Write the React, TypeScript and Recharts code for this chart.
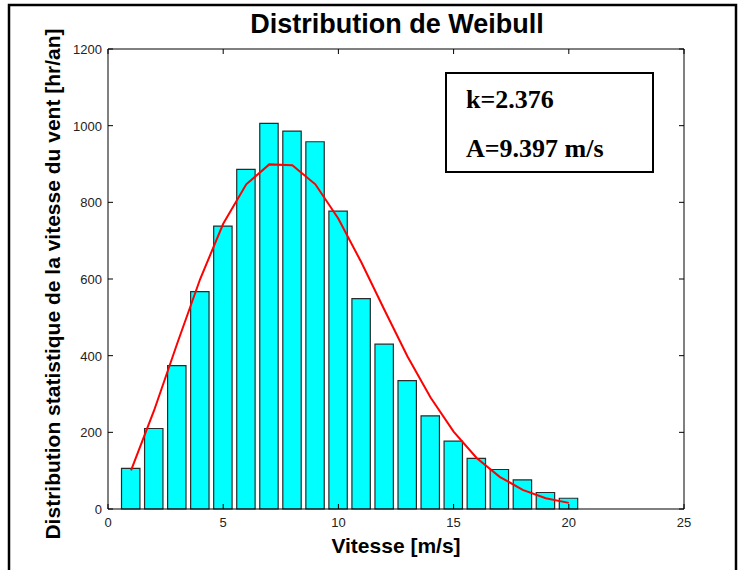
import React from 'react';
import { ComposedChart, Bar, Line, XAxis, YAxis, ReferenceLine } from 'recharts';

// vitesse du vent (m/s) et heures par an
const speeds = [1, 2, 3, 4, 5, 6, 7, 8, 9, 10, 11, 12, 13, 14, 15, 16, 17, 18, 19, 20];
const hoursPerYear = [106, 210, 374, 567, 738, 886, 1006, 986, 958, 777, 549, 430, 335, 243, 177, 132, 103, 76, 43, 28];
const weibullFit = [101, 257, 431, 600, 744, 847, 899, 897, 847, 757, 643, 519, 398, 291, 202, 133, 84, 50, 28, 16];

const xTicks = [0, 5, 10, 15, 20, 25];
const yTicks = [0, 200, 400, 600, 800, 1000, 1200];

const titleText = 'Distribution de Weibull';
const xLabel = 'Vitesse [m/s]';
const yLabel = 'Distribution statistique de la vitesse du vent [hr/an]';
const noteLines = ['k=2.376', 'A=9.397 m/s'];

const data = speeds.map((v, i) => ({ v, hours: hoursPerYear[i], fit: weibullFit[i] }));

const W = 744;
const H = 570;
const margin = { top: 49, right: 60, bottom: 1, left: 48 };
const Y_AXIS_W = 60;
const X_AXIS_H = 60;
const plotW = W - margin.left - margin.right - Y_AXIS_W;
const plotH = H - margin.top - margin.bottom - X_AXIS_H;

const sans = '"Liberation Sans", Arial, sans-serif';
const serif = '"Liberation Serif", "Times New Roman", serif';

// ticks inward (bottom + mirrored top), like matlab's box
const BottomTick = (props: any) => {
  const { x, y, payload } = props;
  return (
    <g>
      <line x1={x} y1={y} x2={x} y2={y - 5} stroke="#000" strokeWidth={1} />
      <line x1={x} y1={y - plotH} x2={x} y2={y - plotH + 5} stroke="#000" strokeWidth={1} />
      <text x={x} y={y + 18} textAnchor="middle" fontFamily={sans} fontSize={13} fill="#222">
        {payload.value}
      </text>
    </g>
  );
};

const LeftTick = (props: any) => {
  const { x, y, payload } = props;
  return (
    <g>
      <line x1={x} y1={y} x2={x + 5} y2={y} stroke="#000" strokeWidth={1} />
      <line x1={x + plotW} y1={y} x2={x + plotW - 5} y2={y} stroke="#000" strokeWidth={1} />
      <text x={x - 6} y={y + 5} textAnchor="end" fontFamily={sans} fontSize={13} fill="#222">
        {payload.value}
      </text>
    </g>
  );
};

export default function App() {
  return (
    <div style={{ position: 'absolute', left: 0, top: 0, width: W, height: H, background: '#fff', overflow: 'hidden' }}>
      <ComposedChart width={W} height={H} data={data} margin={margin}>
        <XAxis
          xAxisId="b"
          dataKey="v"
          type="number"
          domain={[0, 25]}
          ticks={xTicks}
          height={X_AXIS_H}
          tickSize={0}
          tickMargin={0}
          tickLine={false}
          stroke="#000"
          tick={<BottomTick />}
          interval={0}
        />
        <YAxis
          yAxisId="l"
          type="number"
          domain={[0, 1200]}
          ticks={yTicks}
          width={Y_AXIS_W}
          tickSize={0}
          tickMargin={0}
          tickLine={false}
          stroke="#000"
          tick={<LeftTick />}
          interval={0}
        />
        <ReferenceLine xAxisId="b" yAxisId="l" y={1200} stroke="#000" strokeWidth={1} ifOverflow="visible" />
        <ReferenceLine xAxisId="b" yAxisId="l" x={25} stroke="#000" strokeWidth={1} ifOverflow="visible" />
        <Bar
          xAxisId="b"
          yAxisId="l"
          dataKey="hours"
          barSize={18.4}
          fill="#00FFFF"
          stroke="#2b2b2b"
          strokeWidth={1.2}
          isAnimationActive={false}
        />
        <Line
          xAxisId="b"
          yAxisId="l"
          dataKey="fit"
          type="linear"
          stroke="#FF0000"
          strokeWidth={2}
          dot={false}
          activeDot={false}
          isAnimationActive={false}
        />
      </ComposedChart>

      <svg width={W} height={H} style={{ position: 'absolute', left: 0, top: 0, pointerEvents: 'none' }}>
        {/* cadre de la figure, ouvert en bas */}
        <rect x={9} y={5} width={727} height={600} fill="none" stroke="#000" strokeWidth={2.5} />
        <text x={397} y={33} textAnchor="middle" fontFamily={sans} fontWeight="bold" fontSize={27} fill="#000">
          {titleText}
        </text>
        <text x={396} y={553} textAnchor="middle" fontFamily={sans} fontWeight="bold" fontSize={21} fill="#000">
          {xLabel}
        </text>
        <text
          x={0}
          y={0}
          transform="translate(60,284) rotate(-90)"
          textAnchor="middle"
          fontFamily={sans}
          fontWeight="bold"
          fontSize={21}
          fill="#000"
        >
          {yLabel}
        </text>
        <rect x={446} y={73} width={207} height={99} fill="#fff" stroke="#000" strokeWidth={2} />
        <text x={466} y={108} fontFamily={serif} fontWeight="bold" fontSize={26} fill="#000">
          {noteLines[0]}
        </text>
        <text x={466} y={157} fontFamily={serif} fontWeight="bold" fontSize={26} fill="#000">
          {noteLines[1]}
        </text>
      </svg>
    </div>
  );
}
